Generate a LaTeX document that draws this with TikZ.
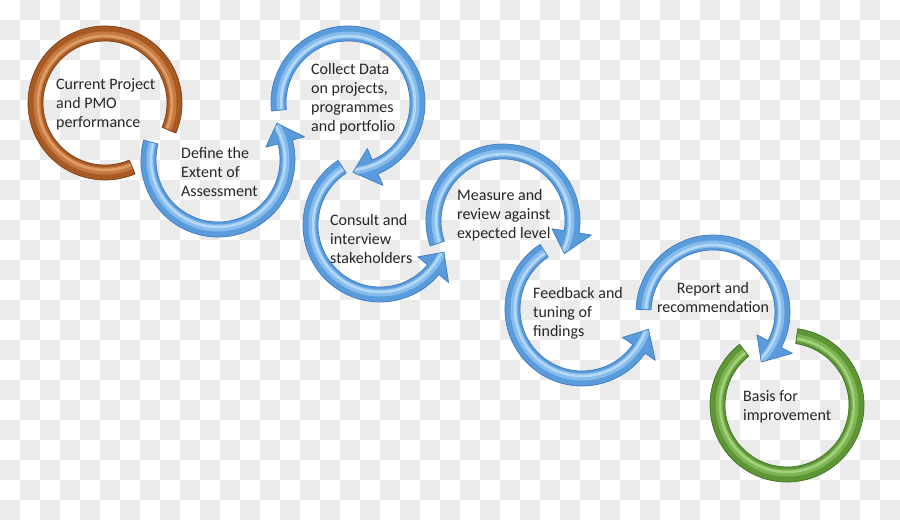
\documentclass[tikz,border=0pt]{standalone}
\usepackage{fontspec}
\setmainfont{Carlito}
\definecolor{ck}{HTML}{EBEBEB}
\definecolor{txt}{HTML}{262626}
\definecolor{be}{HTML}{3E7CC0}
\definecolor{bm}{HTML}{5A9BDB}
\definecolor{bl}{HTML}{86BDEE}
\definecolor{bh}{HTML}{B5D8F7}
\definecolor{re}{HTML}{7E3F15}
\definecolor{rm}{HTML}{A85A25}
\definecolor{rl}{HTML}{C77A40}
\definecolor{rh}{HTML}{DE9C68}
\definecolor{ge}{HTML}{3F7424}
\definecolor{gm}{HTML}{5E9636}
\definecolor{gl}{HTML}{7DB552}
\definecolor{gh}{HTML}{A3D07A}
\tikzset{lbl/.style={font=\fontsize{16}{19.3}\selectfont, text=txt, inner sep=0pt}}
\newcommand\linesl[1]{\begin{tabular}[t]{@{}l@{}}#1\end{tabular}}
\newcommand\linesc[1]{\begin{tabular}[t]{@{}c@{}}#1\end{tabular}}
\newcommand\ringfill[1]{%
  \fill[#1m] (0,0) circle (100pt);
  \draw[#1l, line width=7pt] (0,0) circle (68pt);
  \draw[#1h, line width=2.5pt] (0,0) circle (67pt);
}
% circular arrow: cx, cy, start, head base, tip, palette
\newcommand\carrow[6]{%
  \begin{scope}[shift={(#1,-#2)}]
    \begin{scope}
      \clip (#3:77pt) arc[start angle=#3, end angle=#4, radius=77pt] -- (#4:89.5pt) -- (#5:69.5pt) -- (#4:49.5pt) -- (#4:62pt) arc[start angle=#4, end angle=#3, radius=62pt] -- cycle;
      \ringfill{#6}
    \end{scope}
    \draw[#6e, line width=0.7pt, line join=round] (#3:77pt) arc[start angle=#3, end angle=#4, radius=77pt] -- (#4:89.5pt) -- (#5:69.5pt) -- (#4:49.5pt) -- (#4:62pt) arc[start angle=#4, end angle=#3, radius=62pt] -- cycle;
  \end{scope}}
% plain ring segment: cx, cy, start, end, palette
\newcommand\cring[5]{%
  \begin{scope}[shift={(#1,-#2)}]
    \begin{scope}
      \clip (#3:77pt) arc[start angle=#3, end angle=#4, radius=77pt] -- (#4:62pt) arc[start angle=#4, end angle=#3, radius=62pt] -- cycle;
      \ringfill{#5}
    \end{scope}
    \draw[#5e, line width=0.7pt, line join=round] (#3:77pt) arc[start angle=#3, end angle=#4, radius=77pt] -- (#4:62pt) arc[start angle=#4, end angle=#3, radius=62pt] -- cycle;
  \end{scope}}
\begin{document}
\begin{tikzpicture}[x=1pt,y=1pt]
\useasboundingbox (0,0) rectangle (900,-520);
\fill[white] (0,0) rectangle (900,-520);
\foreach \i in {0,...,44} {
  \foreach \j in {0,...,25} {
    \pgfmathtruncatemacro\ckpar{mod(\i+\j,2)}
    \ifnum\ckpar=1 \fill[ck] (\i*20,-\j*20) rectangle ++(20,-20); \fi
  }
}
% rings
\cring{105}{103}{-23}{293}{r}
\carrow{218}{160}{165}{375}{392}{b}
\carrow{348}{103}{186}{-67}{-86}{b}
\carrow{380}{225}{123}{320}{337}{b}
\carrow{503}{221}{199}{-9}{-28}{b}
\carrow{582}{309}{123}{325}{343}{b}
\carrow{713}{312}{178}{-27.5}{-46}{b}
\cring{787}{405}{82}{-232}{g}
% texts
\node[lbl, anchor=base west] (t1) at (56,-89) {\linesl{Current Project\\and PMO\\performance}};
\node[lbl, anchor=base west] (t2) at (181,-158) {\linesl{Define the\\Extent of\\Assessment}};
\node[lbl, anchor=base west] (t3) at (311,-74) {\linesl{Collect Data\\on projects,\\programmes\\and portfolio}};
\node[lbl, anchor=base west] (t4) at (330,-225) {\linesl{Consult and\\interview\\stakeholders}};
\node[lbl, anchor=base west] (t5) at (457,-200) {\linesl{Measure and\\review against\\expected level}};
\node[lbl, anchor=base west] (t6) at (533,-298) {\linesl{Feedback and\\tuning of\\findings}};
\node[lbl, anchor=base] (t7) at (713,-293) {\linesc{Report and\\recommendation}};
\node[lbl, anchor=base west] (t8) at (743,-401) {\linesl{Basis for\\improvement}};
\end{tikzpicture}
\end{document}
